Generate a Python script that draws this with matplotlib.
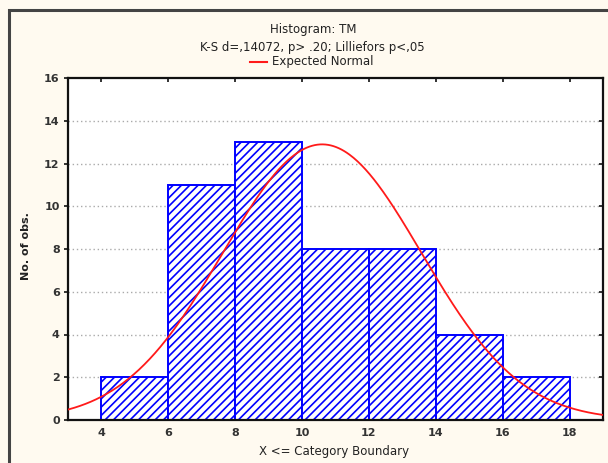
import numpy as np
import matplotlib
matplotlib.use("Agg")
import matplotlib.pyplot as plt
from matplotlib.patches import Rectangle

plt.rcParams['font.family'] = ['DejaVu Sans']
plt.rcParams['hatch.linewidth'] = 1.2
plt.rcParams['hatch.color'] = '#1a1aff'

# Data
bin_edges = [4, 6, 8, 10, 12, 14, 16, 18]
counts = [2, 11, 13, 8, 8, 4, 2]
n_obs = sum(counts)
fit_mean = 10.6
fit_sd = 2.97
x_ticks = [4, 6, 8, 10, 12, 14, 16, 18]
y_ticks = [0, 2, 4, 6, 8, 10, 12, 14, 16]

title1 = "Histogram: TM"
title2 = "K-S d=,14072, p> .20; Lilliefors p<,05"
legend_label = "Expected Normal"
xlabel = "X <= Category Boundary"
ylabel = "No. of obs."

W, H = 608, 463
fig = plt.figure(figsize=(W / 100, H / 100), dpi=100)
fig.patch.set_facecolor('#fffaf0')

# outer frame
fig.patches.append(Rectangle((9 / W, -0.05), 1.05, (H - 10) / H + 0.05,
                             transform=fig.transFigure, fill=False,
                             edgecolor='#444444', linewidth=2.2, zorder=0))

ax = fig.add_axes([68 / W, (H - 420) / H, (603 - 68) / W, (420 - 78) / H])
ax.set_facecolor('white')

widths = np.diff(bin_edges)
ax.bar(bin_edges[:-1], counts, width=widths, align='edge', facecolor='white',
       edgecolor='#0000ff', hatch='////', linewidth=1.4, zorder=2)

xs = np.linspace(3, 19, 400)
bw = bin_edges[1] - bin_edges[0]
ys = n_obs * bw / (fit_sd * np.sqrt(2 * np.pi)) * np.exp(-0.5 * ((xs - fit_mean) / fit_sd) ** 2)
ax.plot(xs, ys, color='#ff1a1a', linewidth=1.3, zorder=3)

ax.set_xlim(3, 19)
ax.set_ylim(0, 16)
ax.set_xticks(x_ticks)
ax.set_yticks(y_ticks)
for yv in y_ticks[1:-1]:
    ax.axhline(yv, color='#aaaaaa', linestyle=(0, (1, 2)), linewidth=1.0, zorder=1)

ax.tick_params(axis='both', which='both', labelsize=8, colors='#111111',
               labelcolor='#333333', width=1.2, length=3)
ax.tick_params(axis='y', direction='out', pad=3)
ax.tick_params(axis='x', direction='in', top=True, pad=6)
for lab in ax.get_xticklabels() + ax.get_yticklabels():
    lab.set_fontweight('bold')
for s in ax.spines.values():
    s.set_linewidth(1.6)
    s.set_color('#111111')

# right-side inward ticks
ax2 = ax.twinx()
ax2.set_ylim(0, 16)
ax2.set_yticks(y_ticks)
ax2.tick_params(axis='y', direction='in', length=3, width=1.2, colors='#111111',
                labelright=False)
for s in ax2.spines.values():
    s.set_visible(False)

tc = '#222222'
fig.text(313 / W, 1 - 29 / H, title1, ha='center', va='center', fontsize=8.5, color=tc)
fig.text(312 / W, 1 - 47 / H, title2, ha='center', va='center', fontsize=8.5, color=tc)
fig.lines.append(plt.Line2D([250 / W, 267 / W], [1 - 62 / H, 1 - 62 / H],
                            transform=fig.transFigure, color='#ff1a1a', linewidth=1.5))
fig.text(272 / W, 1 - 61 / H, legend_label, ha='left', va='center', fontsize=8.5, color=tc)

fig.text(334 / W, 1 - 452 / H, xlabel, ha='center', va='center', fontsize=8.5, color=tc)
fig.text(26 / W, 1 - 246 / H, ylabel, ha='center', va='center', fontsize=8, rotation=90,
         fontweight='bold', color=tc)

fig.savefig('out.png', dpi=100, facecolor=fig.get_facecolor())
